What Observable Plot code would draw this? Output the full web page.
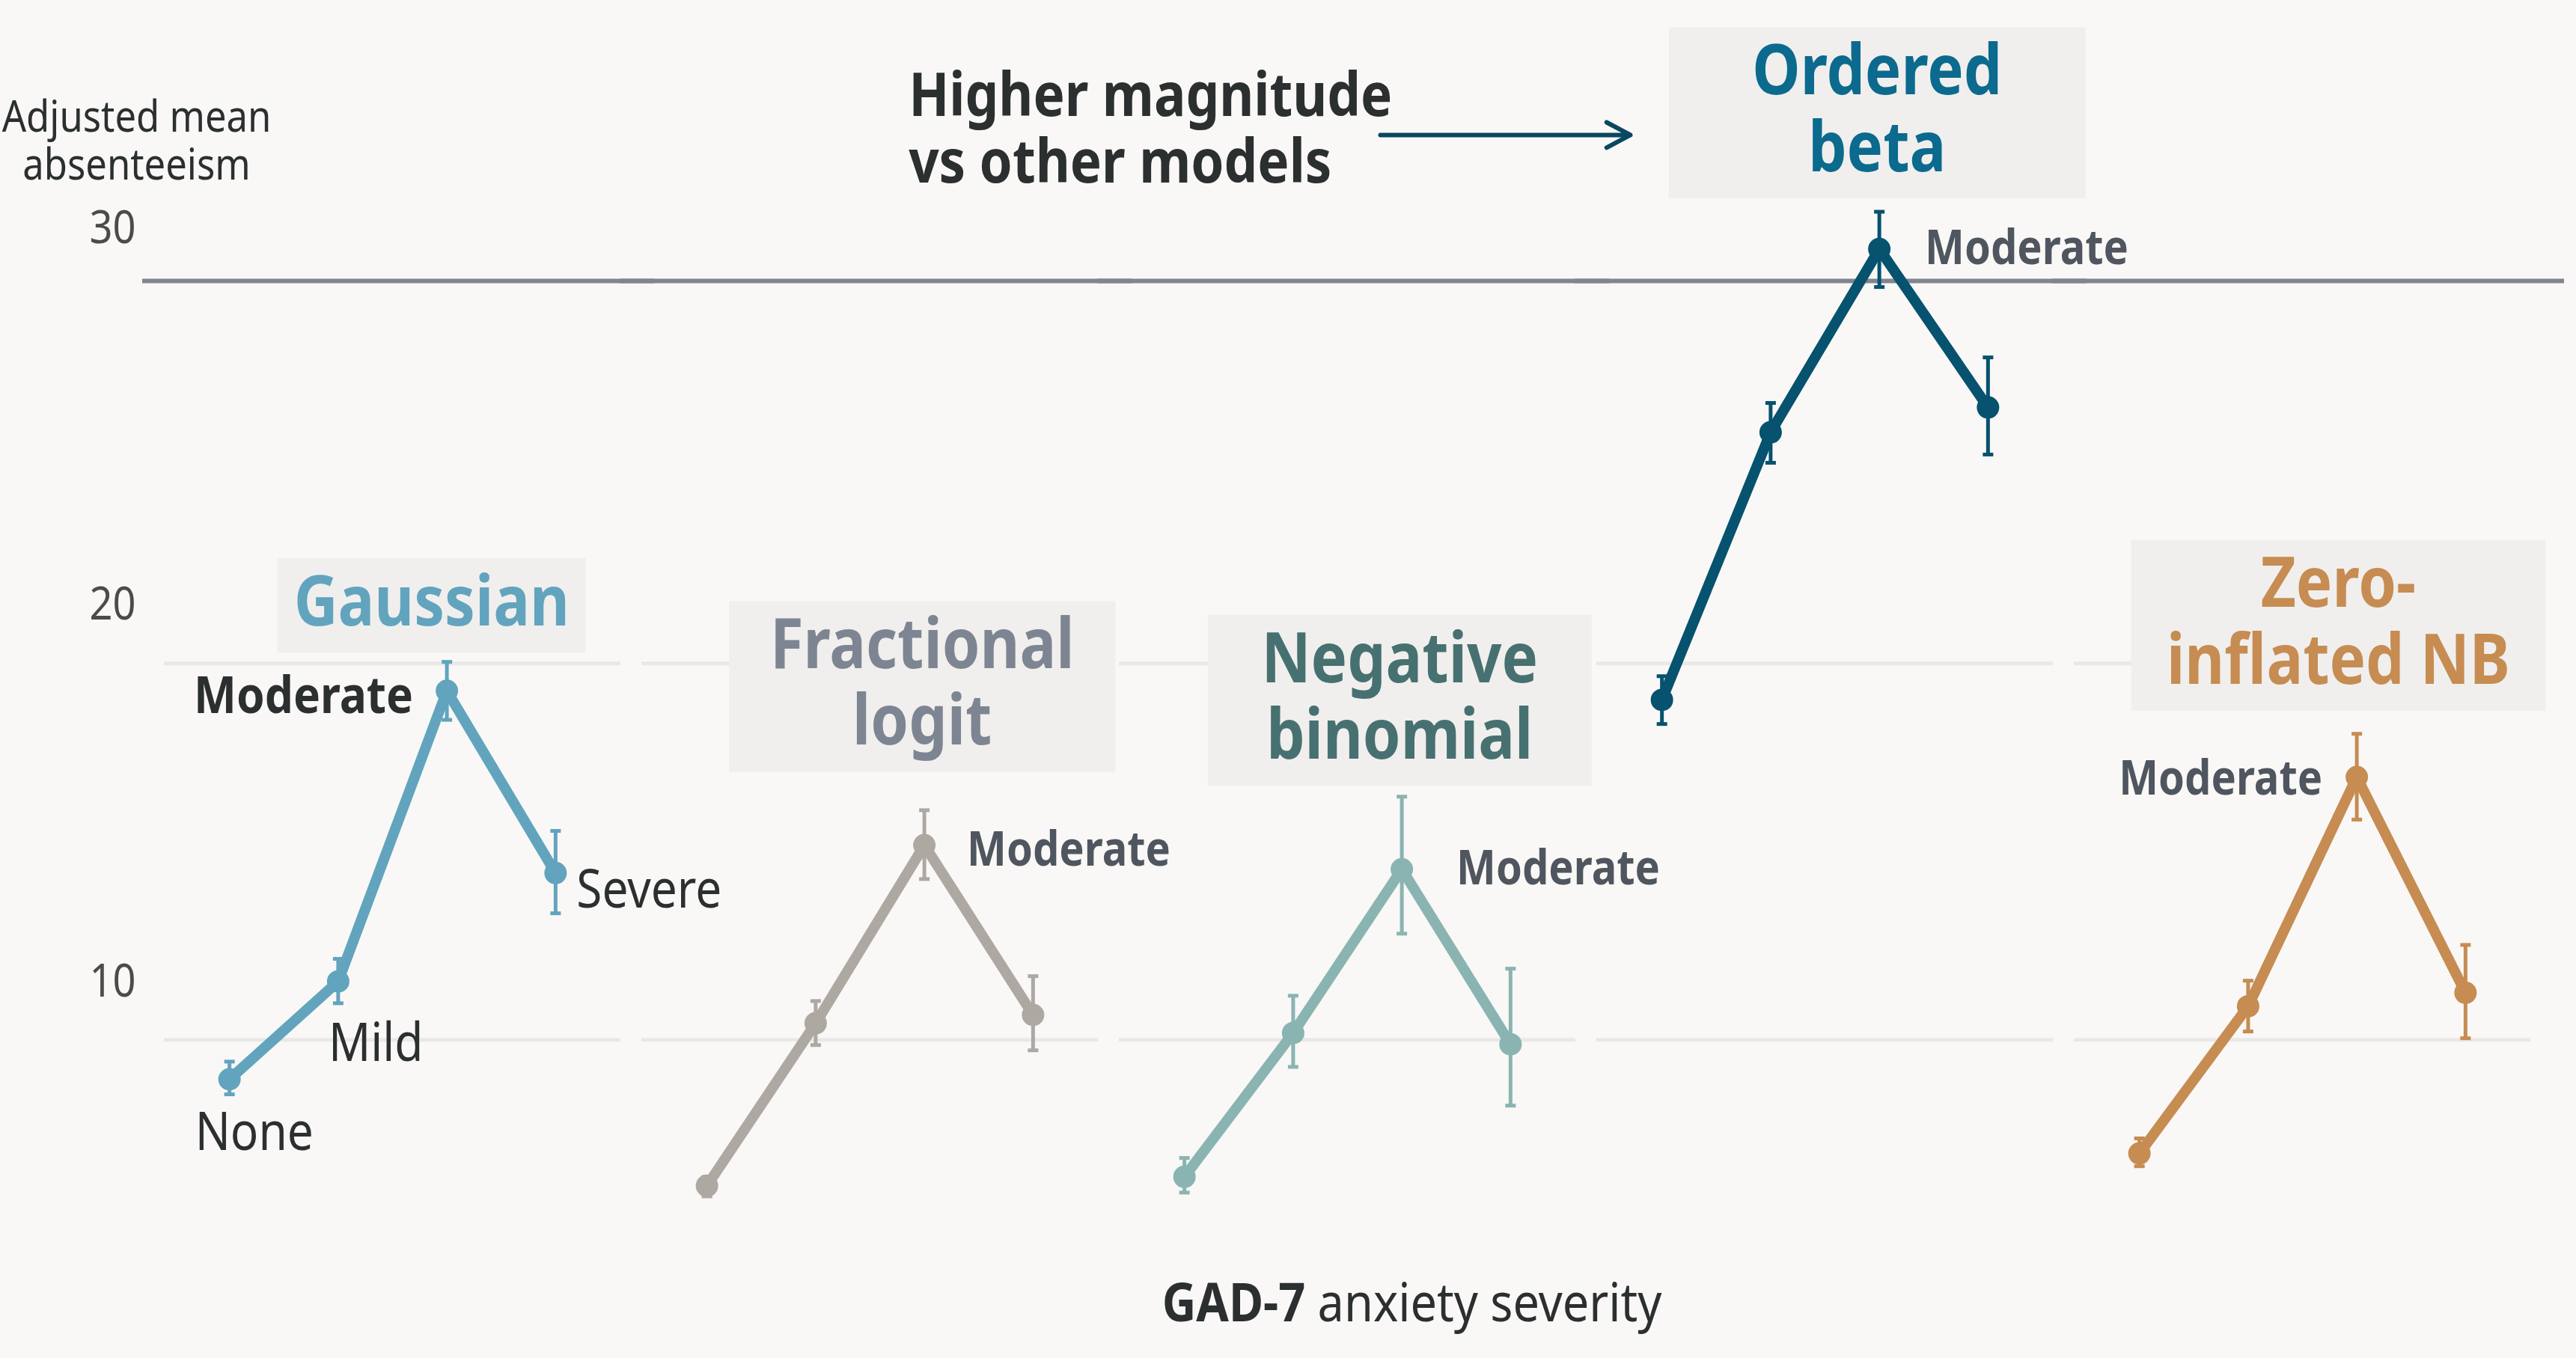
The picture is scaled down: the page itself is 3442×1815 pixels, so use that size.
<!DOCTYPE html>
<html>
<head>
<meta charset="utf-8">
<script src="https://cdn.jsdelivr.net/npm/d3@7"></script>
<script src="https://cdn.jsdelivr.net/npm/@observablehq/plot@0.6"></script>
<style>
  html, body { margin: 0; padding: 0; background: #f9f8f6; }
  body { width: 3442px; height: 1815px; overflow: hidden; position: relative;
         font-family: "Noto Sans", sans-serif; font-stretch: 87.5%; }
  #chart svg text { font-stretch: 87.5%; }
  #xlabel { position: absolute; left: 0; top: 1702px; width: 3774px; text-align: center;
            font-size: 72px; line-height: 72px; color: #2b2f2f; white-space: nowrap; }
  #xlabel span { display: inline-block; }
  #xlabel b { font-weight: 700; }
</style>
</head>
<body>
<div id="chart"></div>
<div id="xlabel"><span><b>GAD-7</b> anxiety severity</span></div>
<script>
// ---------------- data ----------------
const models = ["Gaussian", "Fractional logit", "Negative binomial", "Ordered beta", "Zero-inflated NB"];
const severities = ["None", "Mild", "Moderate", "Severe"];

const gaussianMean = [8.95, 11.55, 19.27, 14.43];
const gaussianLow  = [8.55, 10.97, 18.50, 13.36];
const gaussianHigh = [9.42, 12.15, 20.04, 15.55];

const fracLogitMean = [6.12, 10.44, 15.17, 10.66];
const fracLogitLow  = [5.84, 9.86, 14.27, 9.72];
const fracLogitHigh = [6.36, 11.03, 16.10, 11.69];

const negBinMean = [6.36, 10.18, 14.53, 9.88];
const negBinLow  = [5.94, 9.28, 12.82, 8.25];
const negBinHigh = [6.86, 11.17, 16.46, 11.89];

const ordBetaMean = [19.03, 26.14, 31.01, 26.80];
const ordBetaLow  = [18.39, 25.33, 30.00, 25.55];
const ordBetaHigh = [19.66, 26.92, 32.00, 28.13];

const zinbMean = [6.98, 10.89, 16.98, 11.25];
const zinbLow  = [6.64, 10.22, 15.85, 10.04];
const zinbHigh = [7.38, 11.57, 18.13, 12.52];

const yTicks = [10, 20, 30];
const gridTicks = [10, 20];
const referenceLine = [30];

const panelTitles = ["Gaussian", "Fractional\nlogit", "Negative\nbinomial", "Ordered\nbeta", "Zero-\ninflated NB"];
const yTitle = "Adjusted mean\nabsenteeism";
const calloutText = "Higher magnitude\nvs other models";

// ---------------- styles / layout ----------------
const lineColors  = ["#62a4be", "#ada8a2", "#8ab4b2", "#06526f", "#c68c52"];
const titleColors = ["#62a4be", "#7e8592", "#477170", "#0b6a8e", "#c68c52"];
const boxWidths   = [412, 516, 513, 557, 554];
const titleSize = 93;
// title anchor in data units (x: severity index, y: absenteeism)
const titleX = [1.86, 1.98, 1.98, 1.98, 1.83];
const titleY = [21.66, 19.51, 19.14, 34.75, 21.13];
// callout (in the Ordered beta panel, data units)
const callout = {model: "Ordered beta", textX: -6.93, textY: 34.22, arrowX1: -2.59, arrowX2: -0.29, arrowY: 34.04};

const labelLayout = [
  {model: "Gaussian", severity: "None", anchor: "start", dx: -46, dy: 72, weight: 400, size: 71, color: "#2b2f2f"},
  {model: "Gaussian", severity: "Mild", anchor: "start", dx: -13, dy: 84, weight: 400, size: 71, color: "#2b2f2f"},
  {model: "Gaussian", severity: "Moderate", anchor: "end", dx: -45, dy: 8, weight: 700, size: 69, color: "#2b2f2f"},
  {model: "Gaussian", severity: "Severe", anchor: "start", dx: 28, dy: 23, weight: 400, size: 71, color: "#2b2f2f"},
  {model: "Fractional logit", severity: "Moderate", anchor: "start", dx: 57, dy: 7, weight: 700, size: 64, color: "#50565f"},
  {model: "Negative binomial", severity: "Moderate", anchor: "start", dx: 73, dy: 0, weight: 700, size: 64, color: "#50565f"},
  {model: "Ordered beta", severity: "Moderate", anchor: "start", dx: 61, dy: 0, weight: 700, size: 64, color: "#50565f"},
  {model: "Zero-inflated NB", severity: "Moderate", anchor: "end", dx: -46, dy: 3, weight: 700, size: 64, color: "#50565f"}
];

// ---------------- table ----------------
const series = [
  [gaussianMean, gaussianLow, gaussianHigh],
  [fracLogitMean, fracLogitLow, fracLogitHigh],
  [negBinMean, negBinLow, negBinHigh],
  [ordBetaMean, ordBetaLow, ordBetaHigh],
  [zinbMean, zinbLow, zinbHigh]
];
const rows = models.flatMap((model, m) => severities.map((severity, i) => ({
  model, severity, sev: i, mean: series[m][0][i], low: series[m][1][i], high: series[m][2][i]
})));
const caps = rows.flatMap(d => [{...d, v: d.low}, {...d, v: d.high}]);
const titles = models.map((model, m) => ({model, text: panelTitles[m], x: titleX[m], y: titleY[m]}));

const capSymbol = {
  draw(context, size) {
    const w = Math.sqrt(size / Math.PI);
    context.moveTo(-w, 0);
    context.lineTo(w, 0);
  }
};

const labelMarks = labelLayout.map(l => {
  const row = rows.filter(d => d.model === l.model && d.severity === l.severity);
  return Plot.text(row, {
    fx: "model", x: "sev", y: "mean", text: "severity",
    textAnchor: l.anchor, dx: l.dx, dy: l.dy,
    fontSize: l.size, fontWeight: l.weight, fill: l.color
  });
});

const titleMarks = titles.map((t, m) => Plot.text([t], {
  fx: "model", x: "x", y: "y", text: "text",
  textAnchor: "middle", lineAnchor: "middle", lineHeight: 1.1,
  fontSize: titleSize, fontWeight: 700, fill: titleColors[m], ariaLabel: "panel-title"
}));

const plot = Plot.plot({
  width: 3442,
  height: 1700,
  marginLeft: 219,
  marginRight: 61,
  marginTop: 31,
  marginBottom: 9,
  style: {background: "#f9f8f6", fontFamily: "'Noto Sans', sans-serif", overflow: "visible"},
  x: {type: "linear", domain: [-0.6, 3.6], axis: null},
  y: {domain: [4, 37], axis: null},
  fx: {domain: models, axis: null, paddingInner: 0.044, paddingOuter: 0},
  color: {domain: models, range: lineColors},
  marks: [
    Plot.gridY({ticks: gridTicks, stroke: "#e9e8e6", strokeOpacity: 1, strokeWidth: 5}),
    Plot.ruleY(referenceLine, {stroke: "#80858f", strokeWidth: 6, insetLeft: -29, insetRight: -45, dy: -8}),
    Plot.axisY({ticks: yTicks, tickSize: 0, tickPadding: 38, fontSize: 62, color: "#4b4b4b", dy: -78, label: null}),
    Plot.text([{model: "Gaussian", t: yTitle}], {
      fx: "model", text: "t", frameAnchor: "top-left", dx: -37, dy: 99,
      textAnchor: "middle", lineAnchor: "top", lineHeight: 1.1, fontSize: 58, fill: "#2b2f2f"
    }),
    Plot.ruleX(rows, {fx: "model", x: "sev", y1: "low", y2: "high", stroke: "model", strokeWidth: 5}),
    Plot.dot(caps, {fx: "model", x: "sev", y: "v", symbol: capSymbol, r: 7, stroke: "model", strokeWidth: 5, fill: "none"}),
    Plot.line(rows, {fx: "model", x: "sev", y: "mean", stroke: "model", strokeWidth: 14, strokeLinejoin: "round"}),
    Plot.dot(rows, {fx: "model", x: "sev", y: "mean", fill: "model", r: 15}),
    ...labelMarks,
    ...titleMarks,
    Plot.text([callout], {
      fx: "model", x: "textX", y: "textY", text: () => calloutText,
      textAnchor: "start", lineAnchor: "middle", lineHeight: 1.1,
      fontSize: 81, fontWeight: 700, fill: "#2b2f2f"
    }),
    Plot.arrow([callout], {
      fx: "model", x1: "arrowX1", x2: "arrowX2", y1: "arrowY", y2: "arrowY",
      stroke: "#0a4761", strokeWidth: 6, headLength: 9, headAngle: 56
    })
  ]
});

document.getElementById("chart").appendChild(plot);

// ---------------- title boxes (from the rendered text) ----------------
const ns = "http://www.w3.org/2000/svg";
const keyOf = s => s.replace(/\s+/g, "");
const titleKeys = panelTitles.map(keyOf);
const titleTexts = new Set();
plot.querySelectorAll('[aria-label="panel-title"]').forEach(el => {
  if (el.tagName.toLowerCase() === "text") titleTexts.add(el);
  else el.querySelectorAll("text").forEach(t => titleTexts.add(t));
});
if (titleTexts.size === 0) {
  plot.querySelectorAll("text").forEach(t => { if (titleKeys.includes(keyOf(t.textContent))) titleTexts.add(t); });
}
titleTexts.forEach(text => {
  const m = titleKeys.indexOf(keyOf(text.textContent));
  if (m < 0) return;
  const bb = text.getBBox();
  const rect = document.createElementNS(ns, "rect");
  const cx = bb.x + bb.width / 2;
  rect.setAttribute("x", cx - boxWidths[m] / 2);
  rect.setAttribute("y", bb.y + 0.1 * titleSize);
  rect.setAttribute("width", boxWidths[m]);
  rect.setAttribute("height", bb.height);
  rect.setAttribute("fill", "#f0efed");
  if (text.getAttribute("transform")) rect.setAttribute("transform", text.getAttribute("transform"));
  text.parentNode.insertBefore(rect, text);
});

// ---------------- condensed-width fallback ----------------
(function () {
  const probe = (stretch) => {
    const t = document.createElementNS(ns, "text");
    t.textContent = "Gaussian Moderate severity";
    t.setAttribute("style", `font-family:'Noto Sans';font-size:100px;font-stretch:${stretch}`);
    plot.appendChild(t);
    const w = t.getComputedTextLength();
    t.remove();
    return w;
  };
  const wide = probe("100%"), narrow = probe("87.5%");
  if (narrow < wide * 0.95) return;
  const f = 0.875;
  plot.querySelectorAll("text").forEach(t => {
    const tspans = t.querySelectorAll("tspan");
    const items = tspans.length ? Array.from(tspans) : [t];
    items.forEach(el => {
      const len = el.getComputedTextLength();
      if (len > 0) {
        el.setAttribute("textLength", len * f);
        el.setAttribute("lengthAdjust", "spacingAndGlyphs");
      }
    });
  });
  const span = document.querySelector("#xlabel span");
  span.style.transform = `scaleX(${f})`;
})();
</script>
</body>
</html>
